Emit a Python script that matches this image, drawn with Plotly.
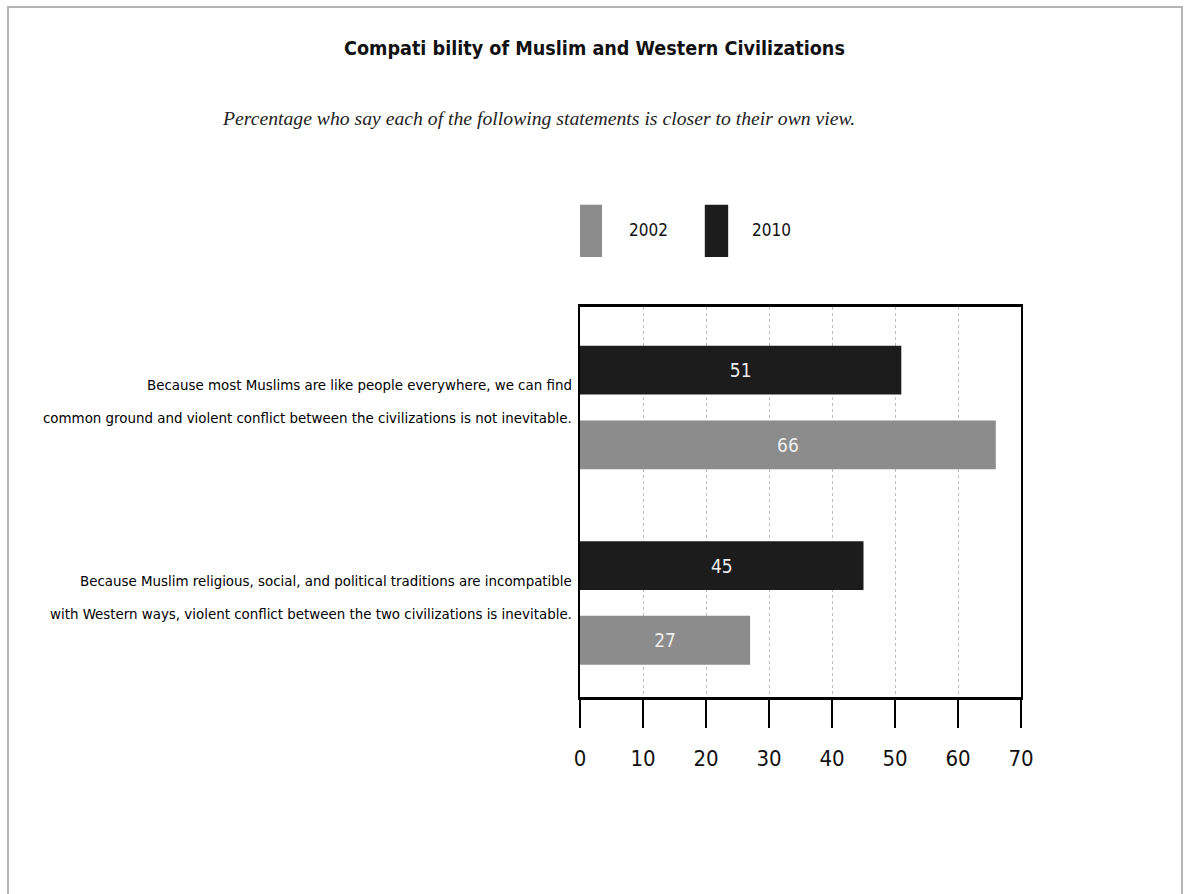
import plotly.graph_objects as go

# ---- data ----
categories = [
    "Because Muslim religious, social, and political traditions are incompatible<br>with Western ways, violent conflict between the two civilizations is inevitable.",
    "Because most Muslims are like people everywhere, we can find<br>common ground and violent conflict between the civilizations is not inevitable.",
]
series_names = ["2002", "2010"]
values_2002 = [27, 66]
values_2010 = [45, 51]
x_ticks = [0, 10, 20, 30, 40, 50, 60, 70]

title_text = "Compati bility of Muslim and Western Civilizations"
subtitle_text = "Percentage who say each of the following statements is closer to their own view."

# ---- styles ----
GRAY = "#8c8c8c"
DARK = "#1c1c1c"
NARROW = "Liberation Sans Narrow, DejaVu Sans Condensed, Arial Narrow, sans-serif"

fig = go.Figure()
fig.add_trace(go.Bar(
    y=categories, x=values_2002, name=series_names[0], orientation="h",
    marker=dict(color=GRAY, line=dict(width=0)), width=0.25, offset=-0.316,
    text=[str(v) for v in values_2002], textposition="inside",
    insidetextanchor="middle", textfont=dict(color="#eeeeee", size=19, family=NARROW),
    showlegend=False,
))
fig.add_trace(go.Bar(
    y=categories, x=values_2010, name=series_names[1], orientation="h",
    marker=dict(color=DARK, line=dict(width=0)), width=0.25, offset=0.066,
    text=[str(v) for v in values_2010], textposition="inside",
    insidetextanchor="middle", textfont=dict(color="#eeeeee", size=19, family=NARROW),
    showlegend=False,
))

# category labels as right-aligned annotations, one per line
annotations = []
for cat in categories:
    lines = cat.split("<br>")
    for i, line in enumerate(lines):
        annotations.append(dict(
            x=0, xref="paper", xanchor="right", xshift=-6,
            y=cat, yref="y", yanchor="middle", yshift=22 - 33 * i,
            text=line, showarrow=False,
            font=dict(family=NARROW, size=14.9, color="#000000"),
        ))

# title and subtitle
annotations.append(dict(
    x=0.032, y=1.664, xref="paper", yref="paper", xanchor="center", yanchor="middle",
    text="<b>" + title_text + "</b>", showarrow=False,
    font=dict(family=NARROW, size=19.6, color="#111111"),
))
annotations.append(dict(
    x=-0.093, y=1.485, xref="paper", yref="paper", xanchor="center", yanchor="middle",
    text="<i>" + subtitle_text + "</i>", showarrow=False,
    font=dict(family="Liberation Serif, serif", size=19.7, color="#222222"),
))

# legend (custom tall swatches)
legend_items = [(series_names[0], GRAY, 0.0, 0.05, 0.107),
                (series_names[1], DARK, 0.283, 0.336, 0.385)]
shapes = []
for name, col, x0, x1, tx in legend_items:
    shapes.append(dict(type="rect", xref="paper", yref="paper",
                       x0=x0, x1=x1, y0=1.128, y1=1.262,
                       fillcolor=col, line=dict(width=0)))
    annotations.append(dict(
        x=tx, y=1.197, xref="paper", yref="paper", xanchor="left", yanchor="middle",
        text=name, showarrow=False,
        font=dict(family=NARROW, size=17, color="#111111"),
    ))

# outer frame
shapes.append(dict(type="rect", xref="paper", yref="paper",
                   x0=-1.297, x1=1.365, y0=-0.53, y1=1.769,
                   line=dict(color="#b5b5b5", width=2), fillcolor="rgba(0,0,0,0)"))

fig.update_layout(
    width=1186, height=894,
    margin=dict(l=580, r=165, t=307, b=197),
    paper_bgcolor="white", plot_bgcolor="white",
    barmode="overlay",
    showlegend=False,
    annotations=annotations,
    shapes=shapes,
)
fig.update_xaxes(
    range=[0, 70], tickvals=x_ticks, ticktext=[str(t) for t in x_ticks],
    showline=True, linecolor="black", linewidth=2.5, mirror=True,
    ticks="outside", ticklen=28, tickwidth=2, tickcolor="black",
    ticklabelstandoff=12,
    tickfont=dict(family=NARROW, size=22, color="#111111"),
    showgrid=True, gridcolor="#bdbdbd", griddash="dot", gridwidth=1,
    zeroline=False,
)
fig.update_yaxes(
    type="category", categoryorder="array", categoryarray=categories,
    range=[-0.481, 1.514],
    showticklabels=False, ticks="",
    showline=True, linecolor="black", linewidth=2, mirror=True,
    showgrid=False, zeroline=False,
)

fig.write_html("out.html")
